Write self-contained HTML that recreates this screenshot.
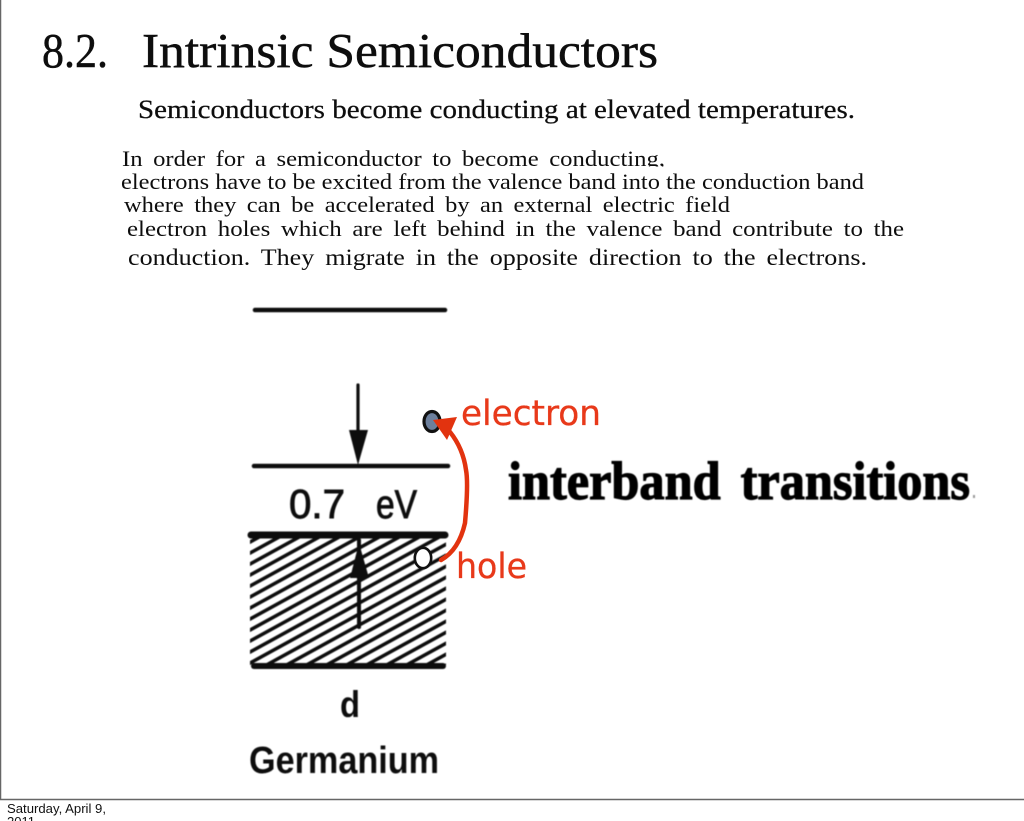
<!DOCTYPE html>
<html>
<head>
<meta charset="utf-8">
<style>
html,body{margin:0;padding:0;background:#fff;width:1024px;height:821px;overflow:hidden}
svg{display:block}
text{white-space:pre}
.s{font-family:"Liberation Serif",serif;fill:#111}
.a{font-family:"Liberation Sans",sans-serif;fill:#111}
.d{font-family:"DejaVu Sans","Liberation Sans",sans-serif;fill:#e8391a}
</style>
</head>
<body>
<svg width="1024" height="821" viewBox="0 0 1024 821" xmlns="http://www.w3.org/2000/svg">
<defs>
<pattern id="p" width="10" height="11" patternUnits="userSpaceOnUse" patternTransform="translate(0,6.5) skewY(-28.8)">
<rect width="10" height="4" fill="#111"/>
</pattern>
<filter id="b" x="-5%" y="-5%" width="110%" height="110%"><feGaussianBlur stdDeviation="0.6"/></filter>
<filter id="c" x="-5%" y="-5%" width="110%" height="110%"><feGaussianBlur stdDeviation="0.3"/></filter>
</defs>
<rect width="1024" height="821" fill="#fff"/>
<path d="M0.5 0V799.5H1024" fill="none" stroke="#666" stroke-width="1.5"/>

<g filter="url(#c)">
<text class="s" x="42" y="67" font-size="49" stroke="#111" stroke-width="0.5" textLength="66" lengthAdjust="spacingAndGlyphs">8.2.</text>
<text class="s" x="142" y="67" font-size="49" stroke="#111" stroke-width="0.5" textLength="516" lengthAdjust="spacingAndGlyphs">Intrinsic Semiconductors</text>
<text class="s" x="138" y="118" font-size="26.5" stroke="#111" stroke-width="0.25" textLength="717" lengthAdjust="spacingAndGlyphs">Semiconductors become conducting at elevated temperatures.</text>

<text class="s" x="122" y="166" font-size="22.5" word-spacing="4" textLength="543" lengthAdjust="spacingAndGlyphs">In order for a semiconductor to become conducting,</text>
<rect x="400" y="166.5" width="280" height="5" fill="#fff"/>
<text class="s" x="121" y="189" font-size="22.5" textLength="743" lengthAdjust="spacingAndGlyphs">electrons have to be excited from the valence band into the conduction band</text>
<text class="s" x="124" y="212" font-size="22.5" word-spacing="4" textLength="606" lengthAdjust="spacingAndGlyphs">where they can be accelerated by an external electric field</text>
<text class="s" x="127" y="236" font-size="22.5" word-spacing="4" textLength="777" lengthAdjust="spacingAndGlyphs">electron holes which are left behind in the valence band contribute to the</text>
<text class="s" x="128" y="265" font-size="23.5" word-spacing="4" textLength="739" lengthAdjust="spacingAndGlyphs">conduction. They migrate in the opposite direction to the electrons.</text>
</g>

<g filter="url(#b)">
<!-- hatch -->
<rect x="250" y="537" width="196" height="128" fill="url(#p)"/>
<!-- band lines -->
<g stroke="#111" fill="none" stroke-linecap="round">
<line x1="255" y1="310" x2="445" y2="310" stroke-width="4.5"/>
<line x1="254" y1="466" x2="448" y2="466" stroke-width="4.5"/>
<line x1="251" y1="535" x2="445" y2="535" stroke-width="7"/>
<line x1="254" y1="666" x2="443" y2="666" stroke-width="6"/>
<line x1="358" y1="385" x2="358" y2="440" stroke-width="3.2"/>
<line x1="359" y1="540" x2="359" y2="627" stroke-width="4"/>
</g>
<polygon points="349,430 368,430 358,465" fill="#111"/>
<polygon points="359,543 369,578 350,578" fill="#111"/>
<text class="a" x="289" y="518" font-size="41" stroke="#111" stroke-width="0.9" textLength="56" lengthAdjust="spacingAndGlyphs">0.7</text>
<text class="a" x="376" y="518" font-size="40" stroke="#111" stroke-width="0.9" textLength="41" lengthAdjust="spacingAndGlyphs">eV</text>
<text class="a" x="340" y="717" font-size="37" font-weight="bold" textLength="20" lengthAdjust="spacingAndGlyphs">d</text>
<text class="a" x="249" y="773" font-size="38" font-weight="bold" textLength="190" lengthAdjust="spacingAndGlyphs">Germanium</text>
<text class="s" x="508" y="499" font-size="54" font-weight="bold" stroke="#000" stroke-width="1.2" word-spacing="8" style="fill:#000" textLength="462" lengthAdjust="spacingAndGlyphs">interband transitions</text>
<rect x="973" y="495" width="2" height="3" fill="#999"/>
</g>

<!-- electron and hole -->
<ellipse cx="432" cy="421.5" rx="8" ry="10" fill="#6c7f9c" stroke="#111" stroke-width="3.2"/>
<ellipse cx="423" cy="558" rx="8.2" ry="10.2" fill="#fff" stroke="#111" stroke-width="2.6"/>

<!-- red arrow -->
<path d="M441 560C450 555 460 545 465 523C467 500 468 480 466 470C464 455 458 442 450 432" fill="none" stroke="#e2330f" stroke-width="4.5" stroke-linecap="round"/>
<polygon points="433,420 457,417 447,440" fill="#e2330f"/>

<text class="d" x="461" y="425" font-size="35" stroke="#e8391a" stroke-width="0.3" textLength="140" lengthAdjust="spacingAndGlyphs">electron</text>
<text class="d" x="456" y="578" font-size="35" stroke="#e8391a" stroke-width="0.3" textLength="71" lengthAdjust="spacingAndGlyphs">hole</text>

<text class="a" x="7" y="813" font-size="13" textLength="99" lengthAdjust="spacingAndGlyphs">Saturday, April 9,</text>
<text class="a" x="7" y="826" font-size="13">2011</text>
</svg>
</body>
</html>
